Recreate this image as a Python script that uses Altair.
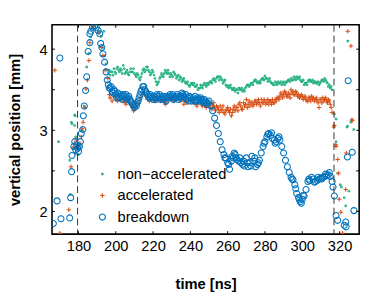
import altair as alt
import pandas as pd

# ---------------- data ----------------
series_names = ["non\u2212accelerated", "accelerated", "breakdown"]
series_colors = ["#22b07f", "#d95319", "#0072bd"]
series_shapes = ["circle", "M-1,0H1M0,-1V1", "circle"]
series_sizes = [3, 38, 26]

x_ticks = [180, 200, 220, 240, 260, 280, 300, 320]
y_ticks_major = [2, 3, 4]
y_ticks_all = [2, 2.5, 3, 3.5, 4]
dash_times = [179.5, 317.0]

# non-accelerated
green_pre_t = [169.3, 175.3, 175.6, 176.2, 176.5, 177.9, 177.9, 178.2, 178.5, 179.0, 180.0, 181.0,
               182.0, 183.0, 184.4, 185.5, 186.5, 188.0, 189.5, 190.5, 192.2, 193.1, 193.6, 194.0,
               194.8, 195.5]
green_pre_y = [2.86, 2.63, 2.21, 3.10, 3.08, 3.19, 3.06, 3.18, 2.92, 2.78, 2.70, 2.80,
               3.00, 3.30, 3.78, 3.95, 4.15, 4.28, 4.30, 4.22, 4.16, 4.02, 4.22, 3.92,
               3.82, 3.74]
green_mid_t = list(range(196, 317))
green_mid_y = [3.70, 3.68, 3.72, 3.76, 3.70, 3.78, 3.72, 3.74, 3.80, 3.70,
               3.74, 3.68, 3.76, 3.72, 3.70, 3.66, 3.68, 3.62, 3.70, 3.76,
               3.74, 3.78, 3.72, 3.70, 3.72, 3.64, 3.56, 3.60, 3.66, 3.68,
               3.70, 3.72, 3.74, 3.66, 3.68, 3.72, 3.68, 3.66, 3.62, 3.64,
               3.62, 3.60, 3.58, 3.56, 3.56, 3.58, 3.58, 3.54, 3.50, 3.52,
               3.54, 3.56, 3.56, 3.58, 3.58, 3.60, 3.62, 3.62, 3.64, 3.66,
               3.66, 3.62, 3.60, 3.56, 3.55, 3.54, 3.52, 3.50, 3.48, 3.50,
               3.52, 3.50, 3.48, 3.48, 3.54, 3.56, 3.56, 3.58, 3.60, 3.62,
               3.58, 3.60, 3.62, 3.64, 3.67, 3.64, 3.62, 3.60, 3.58, 3.56,
               3.58, 3.60, 3.58, 3.56, 3.60, 3.58, 3.60, 3.62, 3.64, 3.62,
               3.64, 3.66, 3.64, 3.62, 3.60, 3.56, 3.58, 3.60, 3.62, 3.60,
               3.58, 3.60, 3.58, 3.56, 3.60, 3.62, 3.64, 3.60, 3.54, 3.52,
               3.50]
green_half_t = [t + 0.5 for t in range(196, 316)]
green_half_y = [3.74, 3.72, 3.68, 3.72, 3.76, 3.74, 3.76, 3.70, 3.76, 3.72,
                3.70, 3.72, 3.72, 3.76, 3.68, 3.70, 3.64, 3.66, 3.74, 3.72,
                3.78, 3.74, 3.68, 3.74, 3.68, 3.60, 3.58, 3.64, 3.70, 3.66,
                3.74, 3.70, 3.70, 3.70, 3.66, 3.70, 3.64, 3.68, 3.66, 3.60,
                3.64, 3.58, 3.60, 3.54, 3.58, 3.56, 3.54, 3.56, 3.52, 3.56,
                3.52, 3.58, 3.54, 3.56, 3.60, 3.58, 3.64, 3.60, 3.66, 3.62,
                3.64, 3.58, 3.62, 3.54, 3.52, 3.56, 3.50, 3.52, 3.50, 3.46,
                3.50, 3.52, 3.50, 3.52, 3.56, 3.54, 3.58, 3.56, 3.62, 3.60,
                3.60, 3.58, 3.64, 3.62, 3.64, 3.60, 3.64, 3.58, 3.56, 3.60,
                3.56, 3.58, 3.60, 3.58, 3.56, 3.60, 3.62, 3.60, 3.62, 3.66,
                3.62, 3.64, 3.66, 3.60, 3.62, 3.58, 3.56, 3.62, 3.60, 3.62,
                3.60, 3.58, 3.60, 3.58, 3.62, 3.60, 3.62, 3.58, 3.56, 3.54]
green_post_t = [317.2, 318.1, 318.1, 319.0, 320.4, 321.0, 322.5, 323.3, 324.0, 324.2, 324.4,
                325.0, 326.0, 327.6]
green_post_y = [3.20, 3.14, 2.86, 2.47, 2.33, 2.30, 2.17, 2.07, 3.04, 3.05, 4.10,
                2.25, 3.10, 3.01]

# accelerated
orange_pre_t = [167.3, 170.0, 174.8, 176.0, 177.0, 177.8, 178.5, 179.0, 179.5, 180.2, 180.8,
                181.5, 182.0, 182.5, 183.5, 184.0, 184.8, 185.6, 186.1, 187.0, 188.0, 191.0,
                192.2, 193.1, 194.3, 195.7, 196.6]
orange_pre_y = [3.74, 1.73, 2.02, 2.55, 2.78, 2.84, 2.72, 2.88, 2.80, 2.76, 2.84,
                2.92, 3.02, 3.10, 3.28, 3.51, 3.62, 3.86, 4.08, 4.26, 4.28, 4.20,
                4.02, 3.92, 3.74, 3.64, 3.44]
orange_mid_t = list(range(197, 317))
orange_mid_y = [3.40, 3.36, 3.42, 3.38, 3.36, 3.40, 3.38, 3.36, 3.34, 3.36,
                3.38, 3.32, 3.28, 3.26, 3.30, 3.34, 3.40, 3.44, 3.46, 3.42,
                3.38, 3.36, 3.38, 3.40, 3.36, 3.38, 3.40, 3.36, 3.38, 3.36,
                3.34, 3.38, 3.40, 3.38, 3.36, 3.38, 3.40, 3.38, 3.36, 3.38,
                3.36, 3.34, 3.36, 3.38, 3.36, 3.34, 3.32, 3.34, 3.36, 3.32,
                3.34, 3.30, 3.32, 3.34, 3.32, 3.30, 3.28, 3.30, 3.26, 3.30,
                3.26, 3.22, 3.24, 3.28, 3.22, 3.18, 3.26, 3.24, 3.28, 3.32,
                3.30, 3.26, 3.30, 3.38, 3.32, 3.30, 3.34, 3.32, 3.36, 3.34,
                3.34, 3.38, 3.34, 3.36, 3.34, 3.32, 3.36, 3.38, 3.34, 3.36,
                3.40, 3.42, 3.44, 3.44, 3.46, 3.42, 3.44, 3.50, 3.48, 3.44,
                3.46, 3.44, 3.42, 3.42, 3.40, 3.38, 3.36, 3.40, 3.42, 3.40,
                3.38, 3.36, 3.28, 3.38, 3.40, 3.38, 3.36, 3.38, 3.32, 3.22]
orange_half_t = [t + 0.5 for t in range(250, 316)]
orange_half_y = [3.28, 3.26, 3.34, 3.24, 3.28, 3.22, 3.24, 3.30, 3.20, 3.26,
                 3.24, 3.26, 3.22, 3.30, 3.28, 3.24, 3.34, 3.26, 3.34, 3.32,
                 3.28, 3.36, 3.34, 3.30, 3.36, 3.32, 3.38, 3.30, 3.34, 3.38,
                 3.32, 3.38, 3.36, 3.32, 3.34, 3.38, 3.40, 3.38, 3.46, 3.40,
                 3.48, 3.42, 3.46, 3.40, 3.46, 3.44, 3.48, 3.42, 3.40, 3.44,
                 3.38, 3.42, 3.36, 3.40, 3.36, 3.38, 3.36, 3.40, 3.34, 3.38,
                 3.34, 3.36, 3.40, 3.34, 3.36, 3.28]
orange_extra_t = [205.5, 209.5, 210.5, 226.5, 236.5, 243.5, 246.5, 248.5]
orange_extra_y = [3.32, 3.24, 3.28, 3.32, 3.32, 3.30, 3.30, 3.28]
orange_post_t = [316.9, 317.2, 318.0, 318.1, 319.0, 319.5, 319.8, 320.7, 321.6, 323.3, 323.6,
                 324.4, 326.1, 326.6, 326.8]
orange_post_y = [3.04, 3.06, 2.82, 2.80, 2.64, 2.47, 2.15, 1.99, 1.73, 2.27, 2.72,
                 4.22, 4.04, 3.13, 3.12]

# breakdown
blue_pre_t = [166.5, 168.5, 170.0, 170.6, 175.3, 175.8, 176.3, 176.5, 177.5, 178.0,
              178.5, 179.0, 179.5, 180.0, 180.5, 181.0, 181.5, 182.3, 182.6, 183.1,
              183.8, 184.4, 185.2, 186.1, 186.1, 186.6, 187.5, 188.7, 189.5, 190.5,
              191.4, 191.9, 192.5, 193.1, 194.0, 194.8, 195.4]
blue_pre_y = [1.85, 2.13, 3.89, 1.91, 1.92, 2.17, 2.49, 2.69, 2.80, 2.86,
              2.76, 2.82, 2.78, 2.74, 2.80, 2.86, 2.96, 3.01, 3.18, 3.30,
              3.49, 3.66, 3.97, 4.08, 4.19, 4.22, 4.27, 4.29, 4.27, 4.23,
              4.19, 4.07, 4.02, 3.94, 3.84, 3.72, 3.62]
blue_mid_t = list(range(196, 317))
blue_mid_y = [3.56, 3.52, 3.48, 3.50, 3.44, 3.46, 3.40, 3.42, 3.44, 3.40,
              3.38, 3.42, 3.36, 3.32, 3.28, 3.30, 3.36, 3.44, 3.50, 3.54,
              3.48, 3.44, 3.40, 3.42, 3.38, 3.40, 3.44, 3.40, 3.38, 3.42,
              3.40, 3.36, 3.40, 3.44, 3.42, 3.38, 3.40, 3.44, 3.40, 3.42,
              3.44, 3.40, 3.38, 3.36, 3.40, 3.38, 3.36, 3.38, 3.40, 3.36,
              3.38, 3.34, 3.36, 3.32, 3.36, 3.30, 3.24, 3.15, 3.06, 2.96,
              2.86, 2.76, 2.70, 2.66, 2.60, 2.52, 2.62, 2.66, 2.70, 2.64,
              2.62, 2.60, 2.58, 2.56, 2.66, 2.55, 2.60, 2.68, 2.62, 2.55,
              2.58, 2.63, 2.72, 2.80, 2.86, 2.92, 2.96, 2.94, 2.90, 2.88,
              2.86, 2.90, 2.88, 2.80, 2.72, 2.63, 2.55, 2.48, 2.42, 2.39,
              2.33, 2.22, 2.17, 2.12, 2.15, 2.19, 2.27, 2.37, 2.38, 2.42,
              2.40, 2.37, 2.38, 2.40, 2.41, 2.42, 2.43, 2.44, 2.45, 2.43,
              2.37]
blue_half_t = [t + 0.5 for t in range(196, 250)]
blue_half_y = [3.52, 3.54, 3.46, 3.48, 3.40, 3.42, 3.44, 3.38, 3.42, 3.44,
               3.40, 3.38, 3.34, 3.30, 3.32, 3.34, 3.40, 3.48, 3.54, 3.50,
               3.46, 3.42, 3.44, 3.40, 3.42, 3.38, 3.42, 3.44, 3.40, 3.38,
               3.42, 3.40, 3.42, 3.40, 3.44, 3.40, 3.42, 3.38, 3.42, 3.46,
               3.42, 3.44, 3.40, 3.42, 3.36, 3.40, 3.42, 3.36, 3.38, 3.40,
               3.36, 3.38, 3.34, 3.34]
blue_extra_t = [258.5, 260.5, 262.5, 263.5, 264.5, 266.5, 268.5, 270.5, 272.5, 274.5,
                276.5, 279.5, 281.5, 283.5, 285.5, 287.5, 294.5, 296.5, 298.5, 299.5,
                300.5, 303.5, 306.5, 308.5, 310.5, 312.5, 314.5, 316.5]
blue_extra_y = [2.66, 2.58, 2.68, 2.72, 2.66, 2.66, 2.62, 2.60, 2.56, 2.66,
                2.60, 2.84, 2.95, 2.97, 2.84, 2.92, 2.40, 2.28, 2.14, 2.10,
                2.20, 2.40, 2.36, 2.42, 2.40, 2.46, 2.48, 2.30]
blue_post_t = [317.2, 318.1, 319.0, 322.5, 323.3, 323.5, 324.2, 324.6, 326.8, 327.7]
blue_post_y = [2.19, 1.95, 1.89, 1.83, 1.87, 1.81, 2.67, 3.61, 2.73, 2.01]

# ---------------- table ----------------
rows = []


def add(name, ts, ys):
    assert len(ts) == len(ys), (name, len(ts), len(ys))
    for t, y in zip(ts, ys):
        rows.append({"t": t, "y": y, "series": name})


g, o, b = series_names
add(g, green_pre_t, green_pre_y)
add(g, green_mid_t, green_mid_y)
add(g, green_half_t, green_half_y)
add(g, green_post_t, green_post_y)
add(o, orange_pre_t, orange_pre_y)
add(o, orange_mid_t, orange_mid_y)
add(o, orange_half_t, orange_half_y)
add(o, orange_extra_t, orange_extra_y)
add(o, orange_post_t, orange_post_y)
add(b, blue_pre_t, blue_pre_y)
add(b, blue_mid_t, blue_mid_y)
add(b, blue_half_t, blue_half_y)
add(b, blue_extra_t, blue_extra_y)
add(b, blue_post_t, blue_post_y)
df = pd.DataFrame(rows)

W, H = 314, 214
FONT = "Liberation Sans"
TL = 3
XT = "time [ns]"
YT = "vertical position [mm]"

xs = alt.Scale(domain=[165.8, 330.5], nice=False, zero=False)
ys = alt.Scale(domain=[1.72, 4.30], nice=False, zero=False)

x_axis = alt.Axis(values=x_ticks, ticks=False, tickSize=0, domain=False, grid=False,
                  labelFont=FONT, labelFontSize=15, labelColor="black", labelPadding=5,
                  titleFont=FONT, titleFontSize=15, titleFontWeight="bold",
                  titleColor="black", titlePadding=24, format="d")
y_axis = alt.Axis(values=y_ticks_major, ticks=False, tickSize=0, domain=False, grid=False,
                  labelFont=FONT, labelFontSize=15, labelColor="black", labelPadding=5,
                  titleFont=FONT, titleFontSize=15, titleFontWeight="bold",
                  titleColor="black", titlePadding=17, format="d")


def X():
    return alt.X("t:Q", scale=xs, title=XT, axis=x_axis)


def Y():
    return alt.Y("y:Q", scale=ys, title=YT, axis=y_axis)


leg = alt.Legend(orient="none", legendX=44, legendY=145)

points = alt.Chart(df).mark_point(filled=False, clip=True, strokeWidth=1.1, opacity=1).encode(
    x=X(), y=Y(),
    color=alt.Color("series:N", scale=alt.Scale(domain=series_names, range=series_colors),
                    title=None, legend=leg),
    shape=alt.Shape("series:N", scale=alt.Scale(domain=series_names, range=series_shapes),
                    title=None, legend=leg),
    size=alt.Size("series:N", scale=alt.Scale(domain=series_names, range=series_sizes),
                  title=None, legend=leg),
)

dashes = alt.Chart(pd.DataFrame({"t": dash_times})).mark_rule(
    color="#333333", strokeDash=[7, 4], strokeWidth=1).encode(x=X())

xt = pd.DataFrame({"t": x_ticks})
yt = pd.DataFrame({"y": y_ticks_all})
tick_bottom = alt.Chart(xt).mark_rule(color="black", strokeWidth=1).encode(
    x=X(), y=alt.value(H), y2=alt.value(H - TL))
tick_top = alt.Chart(xt).mark_rule(color="black", strokeWidth=1).encode(
    x=X(), y=alt.value(0), y2=alt.value(TL))
tick_left = alt.Chart(yt).mark_rule(color="black", strokeWidth=1).encode(
    y=Y(), x=alt.value(0), x2=alt.value(TL))
tick_right = alt.Chart(yt).mark_rule(color="black", strokeWidth=1).encode(
    y=Y(), x=alt.value(W), x2=alt.value(W - TL))

chart = alt.layer(points, dashes, tick_bottom, tick_top, tick_left, tick_right).properties(
    width=W, height=H,
    autosize=alt.AutoSizeParams(type="none"),
    padding={"left": 45, "top": 14, "right": 7, "bottom": 58},
    background="white",
).configure_view(
    stroke="black", strokeWidth=1.6,
).configure_legend(
    padding=0, labelFont=FONT, labelFontSize=15, labelColor="black",
    labelOffset=8, rowPadding=6, symbolStrokeWidth=1.2, symbolOffset=0,
)

chart.save("out.html", embed_options={"renderer": "svg", "actions": False})
